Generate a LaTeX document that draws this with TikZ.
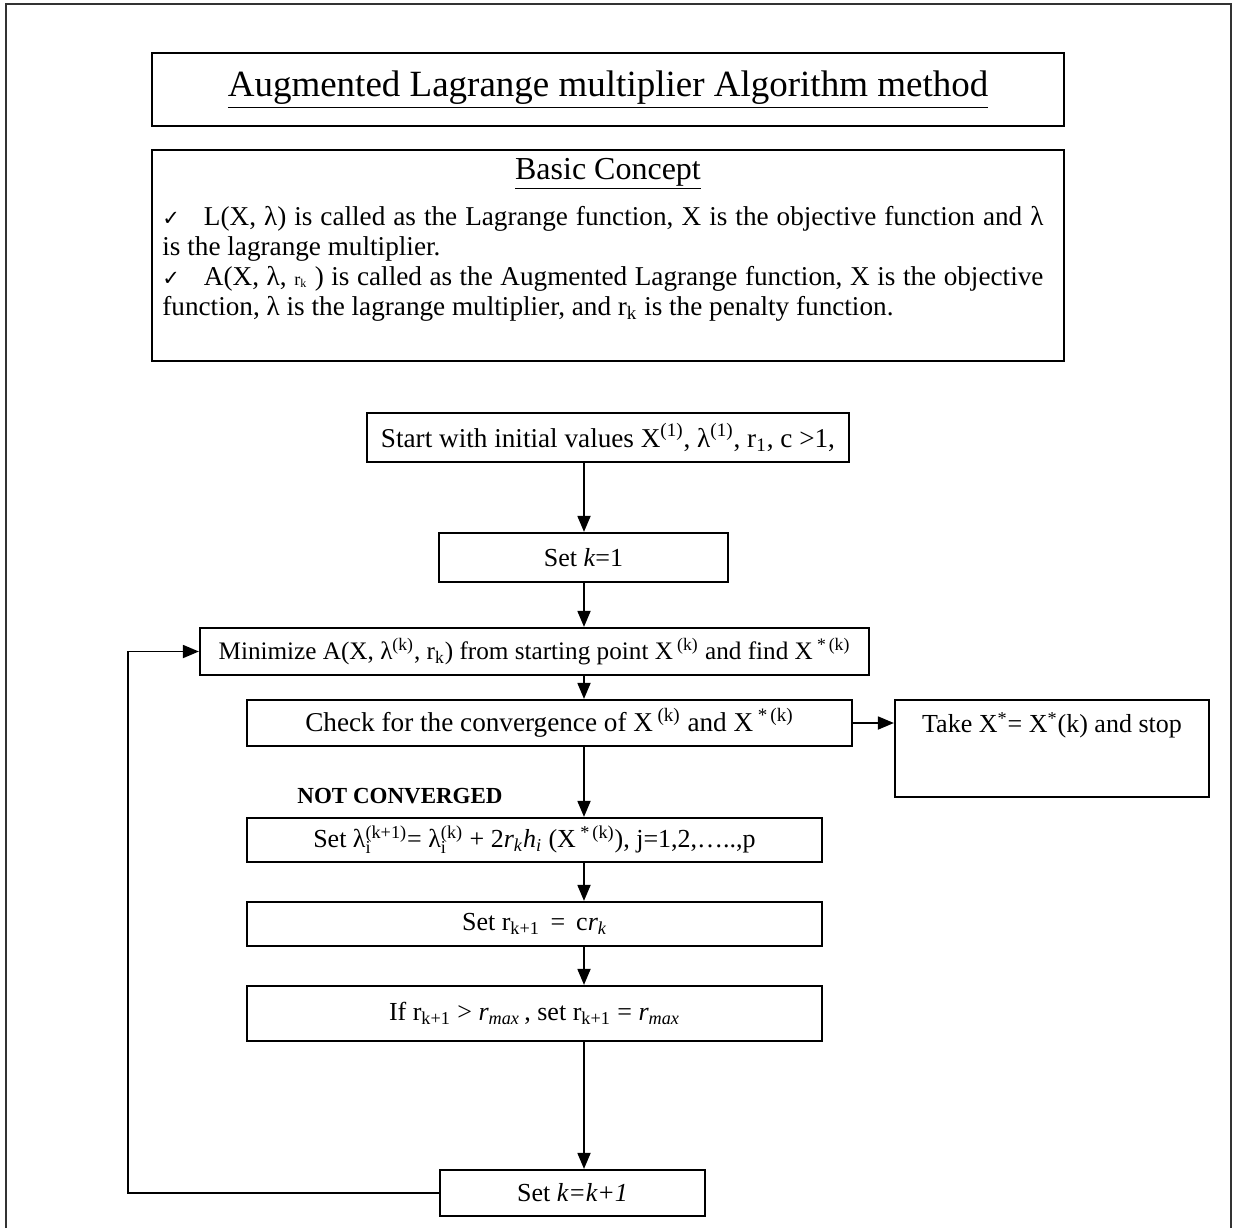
\documentclass[tikz,border=0pt]{standalone}
\usepackage{fontspec}
\setmainfont{Liberation Serif}
\newfontfamily\symf{DejaVu Sans}
\usetikzlibrary{arrows.meta}
\newcommand\ssb[2]{\rlap{\raisebox{-0.2ex}{\textsubscript{#2}}}\textsuperscript{#1}}
\tikzset{
  box/.style={draw, line width=1.1pt, rectangle, inner sep=0pt, align=center,
    font=\fontsize{13}{15}\selectfont},
  conn/.style={line width=0.9pt, -{Triangle[length=8pt,width=6.5pt]}},
  frame/.style={line width=0.8pt, black!80}
}
\begin{document}
\begin{tikzpicture}[x=0.5pt,y=-0.5pt]
\useasboundingbox (0,0) rectangle (1233,1228);
\draw[frame] (6,1228) -- (6,4) -- (1231,4) -- (1231,1228);

% title
\node[box, minimum width=456pt, minimum height=36.5pt, font=\fontsize{18.5}{21}\selectfont]
  (title) at (608,89.5) {\underline{Augmented Lagrange multiplier Algorithm method}};

% basic concept
\node[box, minimum width=456pt, minimum height=105.5pt] (basic) at (608,255.5) {};
\node[font=\fontsize{16}{18}\selectfont, inner sep=0pt] (bhead) at (608,174) {\underline{Basic Concept}};
\node[anchor=north west, inner sep=0pt, text width=440.5pt, align=justify,
  font=\fontsize{13.6}{15}\selectfont] (bpar) at (162,206) {%
  {\symf\fontsize{10.5}{13}\selectfont ✓}\hspace{12pt}L(X, λ) is called as the Lagrange function, X is the objective function and λ\linebreak
  is the lagrange multiplier.\par
  {\symf\fontsize{10.5}{13}\selectfont ✓}\hspace{12pt}A(X, λ, {\fontsize{9}{10}\selectfont r\textsubscript{k}} ) is called as the Augmented Lagrange function, X is the objective\linebreak
  function, λ is the lagrange multiplier, and r\textsubscript{k} is the penalty function.\par};

% flow boxes
\node[box, minimum width=241pt, minimum height=24.5pt, font=\fontsize{13.6}{15}\selectfont] (start) at (608,437.5)
  {Start with initial values X\textsuperscript{(1)}, λ\textsuperscript{(1)}, r\textsubscript{1}, c >1,};
\node[box, minimum width=144.5pt, minimum height=24.5pt] (setk) at (583.5,557.5)
  {Set \textit{k}=1};
\node[box, minimum width=334.5pt, minimum height=23.5pt, font=\fontsize{12.6}{15}\selectfont] (minim) at (534.5,651.5)
  {Minimize A(X, λ\textsuperscript{(k)}, r\textsubscript{k}) from starting point X\,\textsuperscript{(k)} and find X\,\textsuperscript{*\,(k)}};
\node[box, minimum width=302.5pt, minimum height=23pt, font=\fontsize{13.6}{15}\selectfont] (check) at (549.5,723)
  {Check for the convergence of X\,\textsuperscript{(k)} and X\,\textsuperscript{*\,(k)}};
\node[box, minimum width=157pt, minimum height=48.5pt, text depth=26pt] (take) at (1052,748.5)
  {Take X\textsuperscript{*}= X\textsuperscript{*}(k) and stop};
\node[font=\bfseries\fontsize{11.5}{13}\selectfont, inner sep=0pt] (nc) at (400,796) {NOT CONVERGED};
\node[box, minimum width=287.5pt, minimum height=22pt] (setl) at (534.5,840)
  {Set λ\ssb{(k+1)}{i}= λ\ssb{(k)}{i} + 2\textit{r\textsubscript{k}h\textsubscript{i}} (X\,\textsuperscript{*\,(k)}), j=1,2,…..,p};
\node[box, minimum width=287.5pt, minimum height=22pt] (setr) at (534.5,924)
  {Set r\textsubscript{k+1}\, = \,c\textit{r\textsubscript{k}}};
\node[box, minimum width=287.5pt, minimum height=27.5pt] (ifb) at (534.5,1013.5)
  {If r\textsubscript{k+1} > \textit{r\textsubscript{max}}\,, set r\textsubscript{k+1} = \textit{r\textsubscript{max}}};
\node[box, minimum width=132.5pt, minimum height=23pt] (setk1) at (572.5,1193)
  {Set \textit{k=k+1}};

% connectors
\coordinate (ax) at (584,0);
\coordinate (lp) at (128,0);
\draw[conn] (start.south -| ax) -- (setk.north -| ax);
\draw[conn] (setk.south -| ax) -- (minim.north -| ax);
\draw[conn] (minim.south -| ax) -- (check.north -| ax);
\draw[conn] (check.east) -- (check.east -| take.west);
\draw[conn] (check.south -| ax) -- (setl.north -| ax);
\draw[conn] (setl.south -| ax) -- (setr.north -| ax);
\draw[conn] (setr.south -| ax) -- (ifb.north -| ax);
\draw[conn] (ifb.south -| ax) -- (setk1.north -| ax);
\draw[conn] (setk1.west) -- (setk1.west -| lp) |- (minim.west);
\end{tikzpicture}
\end{document}
